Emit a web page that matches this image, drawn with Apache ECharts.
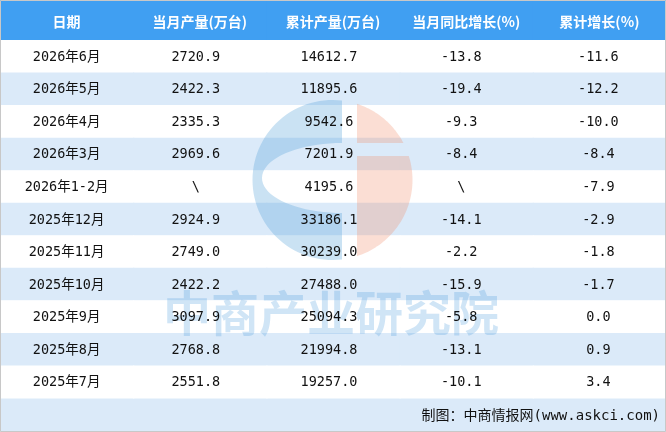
<!DOCTYPE html>
<html>
<head>
<meta charset="utf-8">
<script src="https://cdn.jsdelivr.net/npm/echarts@6/dist/echarts.min.js"></script>
<style>
html,body{margin:0;padding:0;background:#fff;}
#main{width:666px;height:432px;}
</style>
</head>
<body>
<div id="main"></div>
<script>
// ---- data ----
const headers = ['日期', '当月产量(万台)', '累计产量(万台)', '当月同比增长(%)', '累计增长(%)'];
const dates = ['2026年6月', '2026年5月', '2026年4月', '2026年3月', '2026年1-2月', '2025年12月', '2025年11月', '2025年10月', '2025年9月', '2025年8月', '2025年7月'];
const monthlyOutput = [2720.9, 2422.3, 2335.3, 2969.6, null, 2924.9, 2749.0, 2422.2, 3097.9, 2768.8, 2551.8];
const cumulativeOutput = [14612.7, 11895.6, 9542.6, 7201.9, 4195.6, 33186.1, 30239.0, 27488.0, 25094.3, 21994.8, 19257.0];
const monthlyYoY = [-13.8, -19.4, -9.3, -8.4, null, -14.1, -2.2, -15.9, -5.8, -13.1, -10.1];
const cumulativeGrowth = [-11.6, -12.2, -10.0, -8.4, -7.9, -2.9, -1.8, -1.7, 0.0, 0.9, 3.4];
const sourceNote = '制图：中商情报网(www.askci.com)';
const watermarkText = '中商产业研究院';

// ---- build cells ----
function fmt(v) { return v === null ? '\\' : v.toFixed(1); }
const columnTexts = [
  dates.slice(),
  monthlyOutput.map(fmt),
  cumulativeOutput.map(fmt),
  monthlyYoY.map(fmt),
  cumulativeGrowth.map(fmt)
];
const bodyCells = [];
const bodyTexts = [];
for (let r = 0; r < dates.length; r++) {
  for (let c = 0; c < headers.length; c++) {
    bodyCells.push([c, r]);
    bodyTexts.push(columnTexts[c][r]);
  }
}
const headerCells = headers.map((h, i) => [i, 0]);

// ---- styles ----
const HEADER_BLUE = '#409ff2';
const ROW_BLUE = '#dbeaf9';
const colOffset = [0, -4, -4, -5, -1];
const bodyFont = '"DejaVu Sans Mono", "Noto Sans CJK SC", monospace';

// ---- watermark logo shapes (decoration) ----
const LC = [332.5, 180], LR = 80;
function circPt(phi) { return [LC[0] + LR * Math.cos(phi), LC[1] + LR * Math.sin(phi)]; }
const bluePts = [];
(function () {
  const a = Math.acos((342 - LC[0]) / LR);
  for (let i = 0; i <= 60; i++) {
    const phi = -a - (2 * Math.PI - 2 * a) * i / 60;
    bluePts.push(circPt(phi));
  }
  const ecx = 342, ecy = 178, erx = 80, ery = 35;
  for (let i = 0; i <= 40; i++) {
    const psi = Math.PI / 2 + Math.PI * i / 40;
    bluePts.push([ecx + erx * Math.cos(psi), ecy + ery * Math.sin(psi)]);
  }
})();
const salmonTop = [], salmonBot = [];
(function () {
  const a = Math.acos((357 - LC[0]) / LR);
  const t1 = Math.asin((143 - LC[1]) / LR);
  for (let i = 0; i <= 30; i++) {
    const phi = -a + (t1 + a) * i / 30;
    salmonTop.push(circPt(phi));
  }
  salmonTop.push([357, 143]);
  const t2 = Math.asin((156 - LC[1]) / LR);
  for (let i = 0; i <= 50; i++) {
    const phi = t2 + (a - t2) * i / 50;
    salmonBot.push(circPt(phi));
  }
  salmonBot.push([357, 156]);
})();

const chart = echarts.init(document.getElementById('main'), null, { renderer: 'canvas' });

function cellRect(api) {
  const c = api.coord([api.value(0), api.value(1)]);
  const s = api.size([1, 1]);
  return { c: c, s: s };
}

const option = {
  animation: false,
  backgroundColor: '#ffffff',
  grid: [
    { left: 0, right: 0, top: 0, height: 40 },
    { left: 0, right: 0, top: 40, height: 358 }
  ],
  xAxis: [
    { type: 'category', gridIndex: 0, data: headers, show: false },
    { type: 'category', gridIndex: 1, data: headers, show: false }
  ],
  yAxis: [
    { type: 'category', gridIndex: 0, data: ['header'], show: false },
    { type: 'category', gridIndex: 1, data: dates, inverse: true, show: false }
  ],
  graphic: [
    { type: 'rect', z: 1, shape: { x: 0, y: 398, width: 666, height: 34 }, style: { fill: ROW_BLUE } },
    { type: 'polygon', z: 5, silent: true, shape: { points: bluePts }, style: { fill: 'rgba(80,160,215,0.30)' } },
    { type: 'polygon', z: 5, silent: true, shape: { points: salmonTop }, style: { fill: 'rgba(240,135,100,0.28)' } },
    { type: 'polygon', z: 5, silent: true, shape: { points: salmonBot }, style: { fill: 'rgba(240,135,100,0.28)' } },
    { type: 'text', z: 5, silent: true, x: 331, y: 313,
      style: { text: watermarkText, fill: 'rgba(75,155,222,0.26)', font: 'bold 48px "Noto Sans CJK SC"', align: 'center', verticalAlign: 'middle' } },
    { type: 'text', z: 10, x: 660, y: 416,
      style: { text: sourceNote, fill: '#111', font: '14px ' + bodyFont, align: 'right', verticalAlign: 'middle' } },
    { type: 'rect', z: 20, silent: true, shape: { x: 0.5, y: 0.5, width: 665, height: 431 },
      style: { fill: 'none', stroke: '#c8c8c8', lineWidth: 1 } }
  ],
  series: [
    {
      type: 'custom', xAxisIndex: 0, yAxisIndex: 0, z: 1,
      data: headerCells,
      renderItem: function (params, api) {
        const g = cellRect(api);
        return {
          type: 'group',
          children: [
            { type: 'rect', shape: { x: g.c[0] - g.s[0] / 2, y: g.c[1] - g.s[1] / 2, width: g.s[0] + 1, height: g.s[1] }, style: { fill: HEADER_BLUE } },
            { type: 'text', x: g.c[0], y: g.c[1] + 2,
              style: { text: headers[params.dataIndex], fill: '#ffffff', font: 'bold 14px "Noto Sans CJK SC", "DejaVu Sans"', align: 'center', verticalAlign: 'middle' } }
          ]
        };
      }
    },
    {
      type: 'custom', xAxisIndex: 1, yAxisIndex: 1, z: 1,
      data: bodyCells,
      renderItem: function (params, api) {
        const g = cellRect(api);
        const row = api.value(1);
        return {
          type: 'rect',
          shape: { x: g.c[0] - g.s[0] / 2, y: g.c[1] - g.s[1] / 2, width: g.s[0] + 1, height: g.s[1] + 0.5 },
          style: { fill: row % 2 === 1 ? ROW_BLUE : '#ffffff' }
        };
      }
    },
    {
      type: 'custom', xAxisIndex: 1, yAxisIndex: 1, z: 10,
      data: bodyCells,
      renderItem: function (params, api) {
        const g = cellRect(api);
        const col = api.value(0);
        return {
          type: 'text', x: g.c[0] + colOffset[col], y: g.c[1] + 1,
          style: { text: bodyTexts[params.dataIndex], fill: '#111111', font: '13.5px ' + bodyFont, align: 'center', verticalAlign: 'middle' }
        };
      }
    }
  ]
};
chart.setOption(option);
</script>
</body>
</html>
